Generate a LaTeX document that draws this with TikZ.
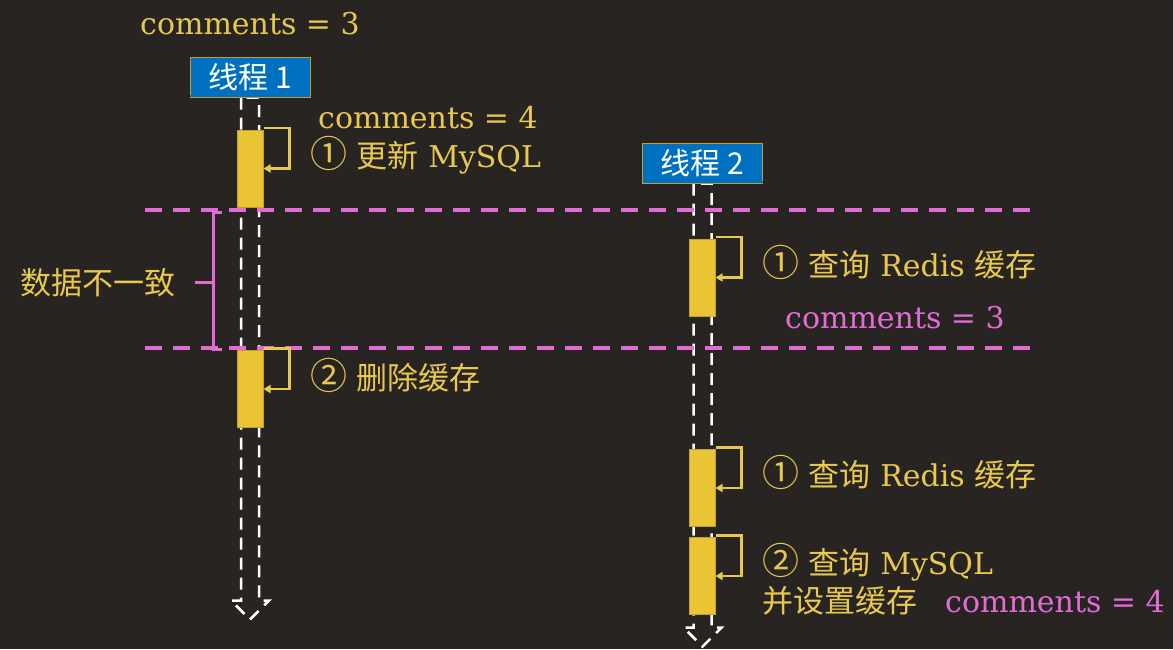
\documentclass[tikz,border=0pt]{standalone}
\usepackage{fontspec}
\setmainfont{DejaVu Serif}
\newfontfamily\cjk{Noto Sans CJK SC}
\usetikzlibrary{arrows.meta,calc}
\definecolor{bg}{RGB}{40,36,33}
\definecolor{gold}{RGB}{232,200,78}
\definecolor{actfill}{RGB}{234,196,52}
\definecolor{actdraw}{RGB}{196,160,40}
\definecolor{pinkc}{RGB}{226,108,214}
\definecolor{tblue}{RGB}{0,112,192}
\newcommand{\cj}[1]{{\cjk\fontsize{31}{34}\selectfont #1}}
\newcommand{\cnum}[1]{{\cjk\fontsize{37}{37}\selectfont #1}}
\tikzset{
  lbl/.style={anchor=base west, inner sep=0, text=gold, font=\fontsize{30}{34}\selectfont},
  plbl/.style={lbl, text=pinkc},
  thread/.style={fill=tblue, draw=actdraw, line width=1pt, minimum width=120pt, minimum height=40pt, inner sep=0, text=white, font=\cjk\fontsize{30}{32}\selectfont},
  act/.style={fill=actfill, draw=actdraw, line width=1pt, minimum width=26pt, minimum height=77pt, inner sep=0},
  life/.style={draw=white, line width=2.5pt, dash pattern=on 12pt off 8pt},
  selfarr/.style={draw=gold, line width=2.5pt, -{Triangle[length=7pt,width=8pt]}},
  pdash/.style={draw=pinkc, line width=3.5pt, dash pattern=on 17pt off 11pt},
  brk/.style={draw=pinkc, line width=3pt}
}
\begin{document}
\begin{tikzpicture}[x=1pt,y=-1pt]
\useasboundingbox (0,0) rectangle (1173,649);
\fill[bg] (0,0) rectangle (1173,649);

% threads
\node[thread] (t1) at (250,77) {线程 1};
\node[thread] (t2) at (702.5,163) {线程 2};

% lifelines
\draw[life] (t1.south) ++(-9,0) -- ++(0,503) -- ++(-10,0) -- ++(19,19) -- ++(19,-19) -- ++(-10,0) -- ++(0,-503) -- cycle;
\draw[life] (t2.south) ++(-9,0) -- ++(0,444) -- ++(-10,0) -- ++(19,19) -- ++(19,-19) -- ++(-10,0) -- ++(0,-444) -- cycle;
\fill[tblue] (t1.south west) ++(0.5,-3) rectangle ([shift={(-0.5,0)}]t1.south east);
\draw[draw=actdraw, line width=1pt] (t1.south west) -- (t1.south east);
\fill[tblue] (t2.south west) ++(0.5,-3) rectangle ([shift={(-0.5,0)}]t2.south east);
\draw[draw=actdraw, line width=1pt] (t2.south west) -- (t2.south east);

% pink dashed lines
\coordinate (d1a) at (145,210);
\coordinate (d1b) at (1030,210);
\coordinate (d2a) at (145,348);
\coordinate (d2b) at (1030,348);
\draw[pdash] (d1a) -- (d1b);
\draw[pdash] (d2a) -- (d2b);

% bracket
\coordinate (bt) at (215,212);
\coordinate (bb) at (215,349);
\coordinate (bm) at (215,282);
\draw[brk] ([xshift=7]bt) -- ([xshift=-1.5]bt) -- ([xshift=-1.5]bb) -- ([xshift=7]bb);
\draw[brk] (bm) -- ++(-20,0);

% activation boxes
\node[act] (a1) at (250,168.5) {};
\node[act] (a2) at (250,389) {};
\node[act] (b1) at (702,277.5) {};
\node[act] (b2) at (702,488) {};
\node[act] (b3) at (702,576) {};

% self arrows
\foreach \n in {a1,a2,b1,b2,b3}{
  \draw[selfarr] ([yshift=1.5]\n.north east) -- ++(26,0) |- (\n.east);
}

% labels
\node[lbl] (c3) at (140,34) {comments = 3};
\node[lbl] (c4) at (318,128) {comments = 4};
\node[lbl] (s1) at (310,167) {\cnum{①} \cj{更新} MySQL};
\node[lbl] (s2) at (310,389) {\cnum{②} \cj{删除缓存}};
\node[lbl] (r1) at (762,276) {\cnum{①} \cj{查询} Redis \cj{缓存}};
\node[plbl] (p3) at (785,328) {comments = 3};
\node[lbl] (r2) at (762,486) {\cnum{①} \cj{查询} Redis \cj{缓存}};
\node[lbl] (m1) at (762,574) {\cnum{②} \cj{查询} MySQL};
\node[lbl] (m2) at (762,612) {\cj{并设置缓存}};
\node[plbl] (p4) at (945,612) {comments = 4};
\node[lbl] (nd) at (20,294) {\cj{数据不一致}};
\end{tikzpicture}
\end{document}
